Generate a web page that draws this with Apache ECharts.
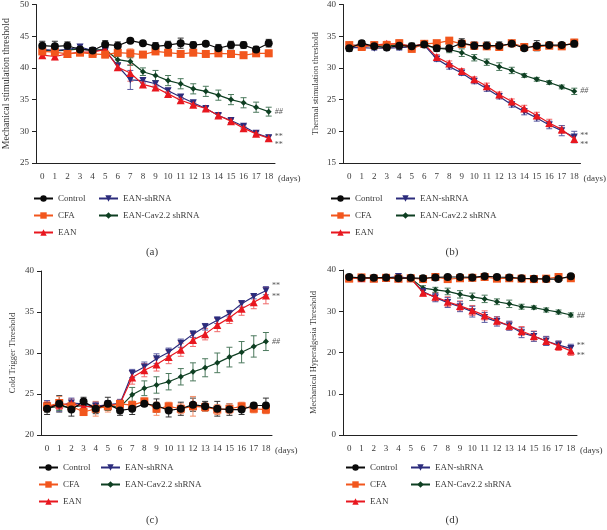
<!DOCTYPE html>
<html>
<head>
<meta charset="utf-8">
<script src="https://cdn.jsdelivr.net/npm/echarts@6/dist/echarts.min.js"></script>
<style>
  html, body { margin: 0; padding: 0; background: #fff; }
  #chart { width: 607px; height: 530px; }
</style>
</head>
<body>
<div id="chart"></div>
<script>
// days 0..18
const days = ['0','1','2','3','4','5','6','7','8','9','10','11','12','13','14','15','16','17','18'];
const groups = ['Control', 'CFA', 'EAN', 'EAN-shRNA', 'EAN-Cav2.2 shRNA'];

// (a) mechanical stimulation threshold
const aControl = [43.5,43.4,43.5,42.9,42.75,43.7,43.5,44.3,43.9,43.4,43.6,43.9,43.6,43.8,43.1,43.6,43.6,42.9,43.9];
const aControlErr = [0.7,0.8,0.6,0.5,0.4,0.6,0.6,0.3,0.3,0.6,0.6,0.8,0.5,0.3,0.6,0.6,0.5,0.5,0.6];
const aCFA = [42.6,42.5,42.2,42.4,42.2,42.1,42.4,42.3,42.1,42.6,42.4,42.2,42.4,42.2,42.3,42.2,42.0,42.3,42.3];
const aCFAErr = [0.4,0.5,0.4,0.4,0.4,0.5,0.5,0.7,0.4,0.4,0.4,0.4,0.4,0.5,0.4,0.5,0.5,0.5,0.5];
const aEAN = [42.0,41.8,42.2,42.5,42.5,42.9,40.1,39.2,37.4,36.9,35.9,34.9,34.2,33.6,32.5,31.6,30.5,29.6,28.9];
const aEANErr = [0.4,0.5,0.4,0.4,0.4,0.4,0.5,1.3,0.4,0.4,0.4,0.4,0.3,0.3,0.3,0.3,0.3,0.3,0.4];
const aSh = [42.9,42.75,42.9,43.3,42.75,42.75,40.3,38.1,38.0,37.5,36.4,35.4,34.5,33.6,32.5,31.7,30.8,29.7,29.0];
const aShErr = [0.3,0.3,0.3,0.4,0.4,0.3,0.5,1.5,0.4,0.5,0.4,0.4,0.3,0.3,0.3,0.3,0.3,0.3,0.4];
const aCav = [42.8,42.7,42.8,43.0,42.8,42.9,41.3,41.0,39.4,38.8,38.0,37.5,36.7,36.3,35.7,35.0,34.5,33.8,33.1];
const aCavErr = [0.3,0.3,0.3,0.3,0.3,0.3,0.5,0.6,0.6,0.8,0.8,0.8,0.8,0.8,0.8,0.8,0.8,0.8,0.7];

// (b) thermal stimulation threshold
const bControl = [33.1,33.9,33.4,33.2,33.5,33.4,33.7,33.1,33.1,33.9,33.5,33.5,33.5,33.8,33.1,33.5,33.6,33.6,33.8];
const bControlErr = [0.5,0.4,0.4,0.4,0.6,0.5,0.3,0.5,0.5,0.7,0.6,0.6,0.6,0.4,0.3,0.8,0.4,0.3,0.5];
const bCFA = [33.6,33.3,33.6,33.6,33.9,33.0,33.8,33.9,34.3,33.8,33.5,33.4,33.3,33.9,33.3,33.3,33.5,33.4,34.0];
const bCFAErr = [0.4,0.4,0.4,0.4,0.5,0.5,0.4,0.4,0.4,0.4,0.4,0.4,0.4,0.4,0.4,0.5,0.4,0.4,0.5];
const bEAN = [33.6,33.5,33.6,33.8,33.8,33.4,33.8,31.7,30.7,29.5,28.2,27.1,25.8,24.7,23.6,22.5,21.3,20.3,18.8];
const bEANErr = [0.4,0.3,0.3,0.4,0.4,0.4,0.3,0.4,0.4,0.4,0.4,0.5,0.4,0.4,0.5,0.5,0.6,0.6,0.6];
const bSh = [33.2,33.2,33.1,33.1,33.2,33.3,33.6,31.4,30.2,29.2,27.9,26.7,25.5,24.2,23.1,22.1,21.0,20.1,19.1];
const bShErr = [0.4,0.3,0.3,0.3,0.4,0.4,0.3,0.4,0.4,0.4,0.4,0.4,0.4,0.4,0.5,0.5,0.6,0.8,0.9];
const bCav = [33.5,33.6,33.4,33.5,33.6,33.5,33.6,33.1,32.9,32.4,31.6,30.9,30.2,29.6,28.8,28.2,27.7,27.0,26.3];
const bCavErr = [0.4,0.3,0.3,0.3,0.4,0.4,0.3,0.5,0.5,0.6,0.5,0.5,0.6,0.5,0.3,0.3,0.3,0.3,0.5];

// (c) cold trigger threshold
const cControl = [23.2,23.8,23.1,24.1,23.2,23.8,23.0,23.2,23.8,23.6,23.0,23.2,23.7,23.5,23.2,23.1,23.1,23.6,23.6];
const cControlErr = [0.7,1.0,0.8,0.5,0.6,0.8,0.6,0.7,0.3,0.8,0.8,0.8,0.8,0.6,0.9,0.7,0.6,0.3,0.9];
const cCFA = [23.5,23.9,23.5,22.8,23.2,23.5,23.8,23.65,24.1,23.2,23.5,23.2,23.5,23.4,23.1,23.2,23.5,23.2,23.1];
const cCFAErr = [0.6,0.8,0.6,0.4,0.9,0.7,0.4,0.5,0.4,0.8,0.5,0.6,1.2,0.5,0.6,0.6,0.5,0.5,0.5];
const cEAN = [23.4,23.7,23.8,23.5,23.4,23.6,23.8,27.0,27.9,28.6,29.5,30.4,31.6,32.3,33.4,34.3,35.4,36.2,37.0];
const cEANErr = [0.6,0.6,0.6,0.5,0.6,0.5,0.5,0.8,0.8,0.8,0.8,0.8,0.8,0.7,0.8,0.7,0.8,0.8,1.0];
const cSh = [23.6,23.6,23.9,23.8,23.5,23.7,23.85,27.5,28.3,29.3,30.1,31.2,32.3,33.2,34.0,34.8,36.0,36.9,37.6];
const cShErr = [0.6,0.7,0.6,0.5,0.5,0.5,0.5,0.5,0.6,0.6,0.5,0.5,0.4,0.4,0.4,0.4,0.4,0.3,0.5];
const cCav = [23.3,23.5,23.4,23.6,23.3,23.5,23.4,24.9,25.7,26.1,26.5,27.1,27.7,28.2,28.8,29.5,30.1,30.8,31.4];
const cCavErr = [0.5,0.5,0.5,0.5,0.5,0.5,0.5,0.9,0.9,1.0,1.0,1.0,1.1,1.1,1.2,1.2,1.3,1.3,1.1];

// (d) mechanical hyperalgesia threshold
const dControl = [38.3,38.1,38.1,38.2,38.0,38.1,38.0,38.2,38.3,38.3,38.2,38.5,38.3,38.2,38.0,37.9,37.8,37.8,38.5];
const dControlErr = [0.3,0.4,0.3,0.3,0.4,0.3,0.3,0.4,0.3,0.3,0.3,0.4,0.3,0.3,0.3,0.3,0.4,0.3,0.4];
const dCFA = [37.9,38.2,37.9,38.1,37.9,38.0,37.8,38.3,37.8,38.0,38.1,38.3,37.9,38.0,37.9,37.8,37.9,38.3,38.0];
const dCFAErr = [0.4,0.5,0.4,0.4,0.4,0.4,0.4,0.5,0.4,0.4,0.4,0.5,0.4,0.4,0.4,0.4,0.4,0.5,0.4];
const dEAN = [38.1,38.0,38.0,38.1,38.0,38.0,34.5,33.5,32.3,31.3,30.2,29.0,27.7,26.5,25.2,24.0,22.8,21.6,20.4];
const dEANErr = [0.3,0.3,0.3,0.3,0.3,0.3,0.8,1.0,1.2,1.2,1.2,1.1,1.0,1.0,1.1,1.2,1.1,1.1,1.1];
const dSh = [38.0,37.9,38.0,38.1,38.4,37.9,34.8,33.3,32.1,31.1,29.9,28.5,27.5,26.5,24.8,23.9,22.8,21.8,21.0];
const dShErr = [0.3,0.3,0.3,0.3,0.3,0.3,0.8,1.0,1.2,1.2,1.3,1.2,1.1,1.1,1.2,1.2,1.1,1.0,1.0];
const dCav = [38.0,38.0,38.0,38.0,38.0,38.0,35.6,35.2,34.8,34.1,33.5,33.0,32.3,31.8,31.1,30.9,30.3,29.8,29.1];
const dCavErr = [0.3,0.3,0.3,0.3,0.3,0.3,0.6,0.6,0.8,0.9,0.9,0.9,0.7,0.9,0.6,0.4,0.5,0.5,0.5];

const panelNames = ['Mechanical stimulation threshold', 'Thermal stimulation threshold', 'Cold Trigger Threshold', 'Mechanical Hyperalgesia Threshold'];
const panelRanges = [[25, 50, 5], [15, 40, 5], [20, 40, 5], [0, 40, 10]];
const panelLetters = ['(a)', '(b)', '(c)', '(d)'];

const font = "'Liberation Serif', 'DejaVu Serif', serif";
const textCol = '#3a3a3a';

// style per group: color, error colour, symbol, size, z
const styles = {
  'Control':          { color: '#0a0a0a', err: '#333333', symbol: 'circle', size: 8, z: 7 },
  'CFA':              { color: '#f2561d', err: '#f5906a', symbol: 'rect', size: 8, z: 6 },
  'EAN':              { color: '#e8171f', err: '#f06a6a', symbol: 'triangle', size: 8, z: 5 },
  'EAN-shRNA':        { color: '#2c2c7c', err: '#5b5ba0', symbol: 'path://M0,0 L10,0 L5,10 Z', size: 7, z: 4 },
  'EAN-Cav2.2 shRNA': { color: '#0e3f22', err: '#4d7a5e', symbol: 'diamond', size: 6, z: 3 }
};

const panels = [
  { vals: [aControl, aCFA, aEAN, aSh, aCav], errs: [aControlErr, aCFAErr, aEANErr, aShErr, aCavErr] },
  { vals: [bControl, bCFA, bEAN, bSh, bCav], errs: [bControlErr, bCFAErr, bEANErr, bShErr, bCavErr] },
  { vals: [cControl, cCFA, cEAN, cSh, cCav], errs: [cControlErr, cCFAErr, cEANErr, cShErr, cCavErr] },
  { vals: [dControl, dCFA, dEAN, dSh, dCav], errs: [dControlErr, dCFAErr, dEANErr, dShErr, dCavErr] }
];

// grid boxes for the four panels
const boxes = [
  { left: 33, top: 4, width: 242, height: 159 },
  { left: 343, top: 4, width: 241, height: 159 },
  { left: 41, top: 271, width: 231, height: 164 },
  { left: 343, top: 270, width: 234, height: 165 }
];
const nameSizes = [9.8, 8.5, 8.5, 8.5];
const nameGaps = [25, 23, 24, 25];
// end-label offsets: [EAN-shRNA, EAN, Cav2.2]
const endOffsets = [
  [[0, -1], [0, 7], [0, 0]],
  [[0, -1], [0, 6], [0, 0]],
  [[0, -5], [0, 1], [0, 0]],
  [[0, -2], [0, 5], [0, 1]]
];
const legendPos = [
  { x1: 33, x2: 98, y: 194 },
  { x1: 330, x2: 395, y: 194 },
  { x1: 38, x2: 100, y: 463 },
  { x1: 345, x2: 410, y: 463 }
];

function errRender(color) {
  return function (params, api) {
    const x = api.value(0);
    const lo = api.coord([x, api.value(1)]);
    const hi = api.coord([x, api.value(2)]);
    const w = 3;
    const st = { stroke: color, lineWidth: 1, fill: null };
    return {
      type: 'group',
      children: [
        { type: 'line', shape: { x1: lo[0], y1: lo[1], x2: hi[0], y2: hi[1] }, style: st },
        { type: 'line', shape: { x1: lo[0] - w, y1: lo[1], x2: lo[0] + w, y2: lo[1] }, style: st },
        { type: 'line', shape: { x1: hi[0] - w, y1: hi[1], x2: hi[0] + w, y2: hi[1] }, style: st }
      ]
    };
  };
}

const grid = [], xAxis = [], yAxis = [], series = [], legend = [], graphic = [];

panels.forEach((p, k) => {
  const b = boxes[k];
  grid.push({ left: b.left, top: b.top, width: b.width, height: b.height });
  xAxis.push({
    type: 'category', gridIndex: k, data: days, boundaryGap: true,
    name: '(days)', nameLocation: 'end', nameGap: 3,
    nameTextStyle: { fontFamily: font, fontSize: 9, color: textCol, verticalAlign: 'top', padding: [11, 0, 0, 0] },
    axisLine: { lineStyle: { color: '#222', width: 1 } },
    axisTick: { alignWithLabel: true, length: 4, lineStyle: { color: '#222' } },
    axisLabel: { interval: 0, fontFamily: font, fontSize: 9, color: textCol, margin: 9 }
  });
  const r = panelRanges[k];
  yAxis.push({
    type: 'value', gridIndex: k, min: r[0], max: r[1], interval: r[2],
    name: panelNames[k], nameLocation: 'middle', nameGap: nameGaps[k],
    nameTextStyle: { fontFamily: font, fontSize: nameSizes[k], color: textCol },
    splitLine: { show: false },
    axisLine: { show: true, lineStyle: { color: '#222', width: 1 } },
    axisTick: { show: true, length: 4, lineStyle: { color: '#222' } },
    axisLabel: { fontFamily: font, fontSize: 9, color: textCol, margin: 7 }
  });

  groups.forEach((g, i) => {
    const s = styles[g];
    const vals = p.vals[i], errs = p.errs[i];
    series.push({
      type: 'custom', xAxisIndex: k, yAxisIndex: k, z: 2,
      renderItem: errRender(s.err),
      encode: { x: 0, y: [1, 2] },
      data: vals.map((v, j) => [j, v - errs[j], v + errs[j]]),
      silent: true
    });
    let endLabel = { show: false };
    const lbl = { fontFamily: font, fontSize: 8, color: '#555', distance: 6 };
    if (g === 'EAN-shRNA') endLabel = Object.assign({ show: true, formatter: '**', offset: endOffsets[k][0] }, lbl);
    if (g === 'EAN') endLabel = Object.assign({ show: true, formatter: '**', offset: endOffsets[k][1] }, lbl);
    if (g === 'EAN-Cav2.2 shRNA') endLabel = Object.assign({ show: true, formatter: '##', offset: endOffsets[k][2], fontStyle: 'italic' }, lbl);
    series.push({
      type: 'line', name: g, xAxisIndex: k, yAxisIndex: k, z: s.z,
      data: vals, symbol: s.symbol, symbolSize: s.size,
      itemStyle: { color: s.color }, lineStyle: { color: s.color, width: 1.2 },
      endLabel: endLabel, animation: false
    });
  });

  const lp = legendPos[k];
  const legStyle = {
    orient: 'vertical', top: lp.y, padding: 0, itemGap: 8, itemWidth: 19, itemHeight: 8,
    textStyle: { fontFamily: font, fontSize: 9, color: textCol }
  };
  legend.push(Object.assign({ left: lp.x1, data: ['Control', 'CFA', 'EAN'] }, legStyle));
  legend.push(Object.assign({ left: lp.x2, data: ['EAN-shRNA', 'EAN-Cav2.2 shRNA'] }, legStyle));
});

const letterPos = [[152, 252], [452, 252], [152, 520], [452, 520]];
letterPos.forEach((pt, k) => {
  graphic.push({
    type: 'text', x: pt[0], y: pt[1],
    style: { text: panelLetters[k], font: '11px ' + font, fill: textCol, align: 'center', verticalAlign: 'middle' }
  });
});

const chart = echarts.init(document.getElementById('chart'));
chart.setOption({
  backgroundColor: '#fff',
  animation: false,
  grid: grid, xAxis: xAxis, yAxis: yAxis,
  legend: legend, series: series, graphic: graphic
});
</script>
</body>
</html>
